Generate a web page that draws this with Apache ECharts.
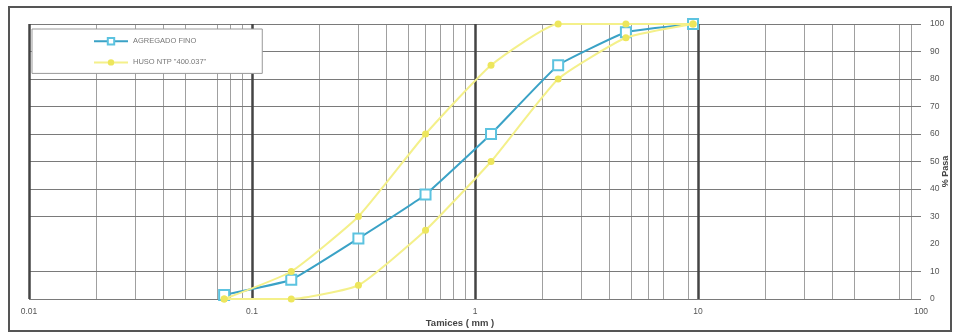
<!DOCTYPE html>
<html>
<head>
<meta charset="utf-8">
<script src="https://cdn.jsdelivr.net/npm/echarts@6/dist/echarts.min.js"></script>
<style>
  html, body { margin: 0; padding: 0; background: #fff; }
  #chart { width: 959px; height: 336px; }
</style>
</head>
<body>
<div id="chart"></div>
<script>
// tamices (mm) y % que pasa
var sieves = [0.075, 0.15, 0.3, 0.6, 1.18, 2.36, 4.75, 9.5];
var agregadoFino = [1.5, 7, 22, 38, 60, 85, 97, 100];
var husoSuperior = [0, 10, 30, 60, 85, 100, 100, 100];
var husoInferior = [0, 0, 5, 25, 50, 80, 95, 100];

// lineas de la cuadricula (papel logaritmico)
var gridMajorX = [0.01, 0.1, 1, 10];
var gridMinorX = [0.02, 0.03, 0.04, 0.05, 0.07, 0.08, 0.09,
                  0.2, 0.3, 0.4, 0.5, 0.6, 0.7, 0.8, 0.9,
                  2, 3, 4, 5, 6, 7, 9,
                  20, 30, 40, 50, 80, 90];
var gridY = [0, 10, 30, 40, 50, 60, 70, 80, 90, 100];

function pairs(ys) {
  return sieves.map(function (s, i) { return [s, ys[i]]; });
}

var myChart = echarts.init(document.getElementById('chart'));

var gridLines = [];
gridMinorX.forEach(function (v) {
  gridLines.push({ xAxis: v, lineStyle: { color: '#a0a0a0', width: 1, type: 'solid' } });
});
gridY.forEach(function (v) {
  gridLines.push({ yAxis: v, lineStyle: { color: '#7a7a7a', width: 1.2, type: 'solid' } });
});
gridMajorX.forEach(function (v) {
  gridLines.push({ xAxis: v, lineStyle: { color: '#444', width: 2.5, type: 'solid' } });
});

var option = {
  backgroundColor: '#fff',
  textStyle: { fontFamily: 'Liberation Sans, Arial, sans-serif' },
  graphic: [{
    type: 'rect',
    shape: { x: 9, y: 7, width: 942, height: 324 },
    style: { fill: 'none', stroke: '#555', lineWidth: 2 }
  }],
  grid: { left: 29, right: 38, top: 24, bottom: 37, outerBoundsMode: 'none', containLabel: false },
  legend: {
    left: 32, top: 29,
    orient: 'vertical',
    itemWidth: 34, itemHeight: 8, itemGap: 13,
    padding: [8, 56, 7, 61],
    backgroundColor: '#fff',
    borderColor: '#999', borderWidth: 1,
    textStyle: { fontSize: 7.5, color: '#777' },
    data: ['AGREGADO FINO', 'HUSO NTP "400.037"']
  },
  xAxis: {
    type: 'log', logBase: 10, min: 0.01, max: 100,
    name: 'Tamices ( mm )', nameLocation: 'middle', nameGap: 19, nameMoveOverlap: false,
    nameTextStyle: { fontSize: 9.5, fontWeight: 'bold', color: '#444', padding: [0, 30, 0, 0] },
    axisLine: { show: false }, axisTick: { show: false }, splitLine: { show: false },
    axisLabel: {
      fontSize: 8.5, color: '#555', margin: 8,
      formatter: function (v) { return String(parseFloat(v.toPrecision(6))); }
    }
  },
  yAxis: {
    type: 'value', min: 0, max: 100, interval: 10, position: 'right',
    name: '% Pasa', nameLocation: 'middle', nameRotate: 90, nameGap: 20, nameMoveOverlap: false,
    nameTextStyle: { fontSize: 9, fontWeight: 'bold', color: '#444', padding: [0, 20, 0, 0] },
    axisLine: { show: false }, axisTick: { show: false }, splitLine: { show: false },
    axisLabel: { fontSize: 8.5, color: '#555', margin: 9 }
  },
  series: [
    {
      name: 'AGREGADO FINO', type: 'line',
      data: pairs(agregadoFino),
      smooth: 0.1,
      symbol: 'emptyRect', symbolSize: 10,
      lineStyle: { color: '#3aa2c6', width: 2 },
      itemStyle: { color: '#5cc3e0', borderWidth: 1.5 },
      z: 3,
      markLine: {
        silent: true, symbol: 'none', z: 1,
        label: { show: false },
        animation: false,
        data: gridLines
      }
    },
    {
      name: 'HUSO NTP "400.037"', type: 'line',
      data: pairs(husoSuperior),
      smooth: 0.15,
      symbol: 'circle', symbolSize: 7,
      lineStyle: { color: '#f4f08a', width: 2 },
      itemStyle: { color: '#ede65c' },
      z: 4
    },
    {
      name: 'HUSO NTP "400.037"', type: 'line',
      data: pairs(husoInferior),
      smooth: 0.15,
      symbol: 'circle', symbolSize: 7,
      lineStyle: { color: '#f4f08a', width: 2 },
      itemStyle: { color: '#ede65c' },
      z: 4
    }
  ]
};

myChart.setOption(option);
</script>
</body>
</html>
